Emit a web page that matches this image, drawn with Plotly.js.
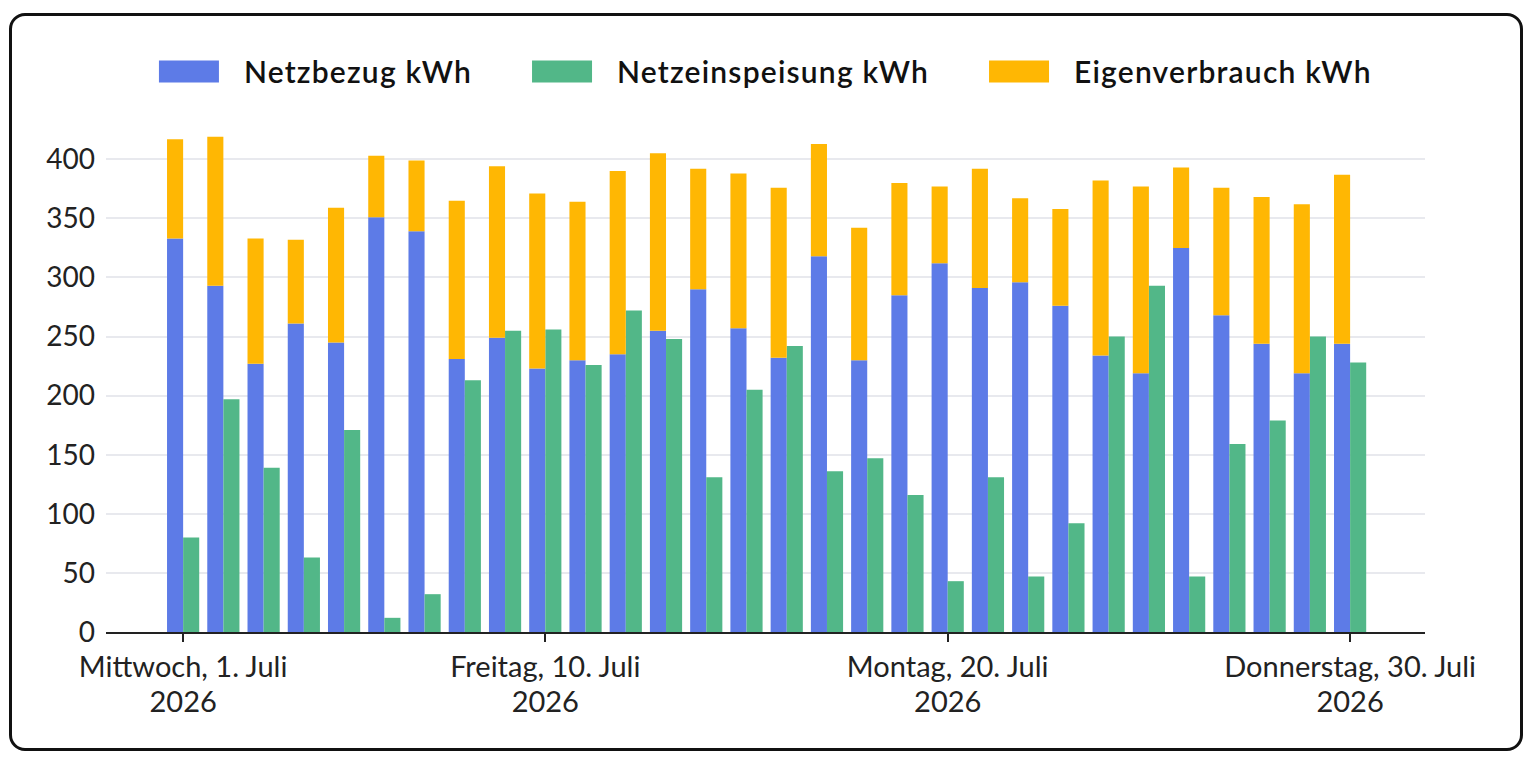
<!DOCTYPE html>
<html>
<head>
<meta charset="utf-8">
<script src="https://cdn.plot.ly/plotly-3.0.1.min.js"></script>
<style>
  html, body { margin: 0; padding: 0; background: #ffffff; }
  #frame { position: absolute; left: 9px; top: 13px; width: 1508px; height: 732px;
           border: 3px solid #111; border-radius: 16px; background: #fff; }
  #chart { position: absolute; left: 0; top: 0; width: 1533px; height: 762px; }
  .legendtext { letter-spacing: 1.2px; }
</style>
</head>
<body>
<div id="frame"></div>
<div id="chart"></div>
<script>
const days = ['2026-07-01','2026-07-02','2026-07-03','2026-07-04','2026-07-05','2026-07-06','2026-07-07','2026-07-08','2026-07-09','2026-07-10',
              '2026-07-11','2026-07-12','2026-07-13','2026-07-14','2026-07-15','2026-07-16','2026-07-17','2026-07-18','2026-07-19','2026-07-20',
              '2026-07-21','2026-07-22','2026-07-23','2026-07-24','2026-07-25','2026-07-26','2026-07-27','2026-07-28','2026-07-29','2026-07-30'];
const netzbezug = [333,293,227,261,245,351,339,231,249,223,230,235,255,290,257,232,318,230,285,312,291,296,276,234,219,325,268,244,219,244];
const eigenverbrauch = [84,126,106,71,114,52,60,134,145,148,134,155,150,102,131,144,95,112,95,65,101,71,82,148,158,68,108,124,143,143];
const netzeinspeisung = [80,197,139,63,171,12,32,213,255,256,226,272,248,131,205,242,136,147,116,43,131,47,92,250,293,47,159,179,250,228];
const tickDates = ['2026-07-01','2026-07-10','2026-07-20','2026-07-30'];
const tickLabels = ['Mittwoch, 1. Juli<br>2026','Freitag, 10. Juli<br>2026','Montag, 20. Juli<br>2026','Donnerstag, 30. Juli<br>2026'];
const yTicks = [0,50,100,150,200,250,300,350,400];

const FONT = 'Lato, "Open Sans", sans-serif';

const traces = [
  { type: 'bar', name: 'Netzbezug kWh', x: days, y: netzbezug, offsetgroup: 'a',
    marker: { color: '#5D7BE7' } },
  { type: 'bar', name: 'Netzeinspeisung kWh', x: days, y: netzeinspeisung, offsetgroup: 'b',
    marker: { color: '#52B788' } },
  { type: 'bar', name: 'Eigenverbrauch kWh', x: days, y: eigenverbrauch, base: netzbezug, offsetgroup: 'a',
    marker: { color: '#FFB703' } }
];

const layout = {
  width: 1533, height: 762,
  margin: { l: 106, r: 108, t: 112, b: 130 },
  paper_bgcolor: 'rgba(0,0,0,0)',
  plot_bgcolor: 'rgba(0,0,0,0)',
  barmode: 'group',
  bargap: 0.2,
  bargroupgap: 0,
  font: { family: FONT, color: '#222', size: 28 },
  showlegend: true,
  legend: {
    orientation: 'h', x: 0.481, xanchor: 'center', y: 1.078, yanchor: 'middle',
    font: { family: FONT, size: 30, color: '#111', weight: 600 },
    itemwidth: 130, traceorder: 'normal'
  },
  xaxis: {
    type: 'date',
    range: ['2026-06-29 02:00', '2026-07-31 20:40'],
    tickvals: tickDates, ticktext: tickLabels,
    ticks: 'outside', ticklen: 8, tickwidth: 2, tickcolor: '#222',
    showline: true, linecolor: '#222', linewidth: 2,
    showgrid: false, zeroline: false,
    tickfont: { family: FONT, size: 29, color: '#222' }
  },
  yaxis: {
    range: [0, 440],
    tickvals: yTicks,
    showgrid: true, gridcolor: '#E8E9EE', gridwidth: 2,
    zeroline: false, showline: false, ticks: '',
    ticklabelstandoff: 10,
    tickfont: { family: FONT, size: 28, color: '#222' }
  }
};

function fixup() {
  document.querySelectorAll('#chart .legend .legendpoints path').forEach(p => {
    p.setAttribute('d', 'M45,11H-15V-11H45Z');
  });
  document.querySelectorAll('#chart .xtick text tspan.line').forEach(t => {
    if (t.getAttribute('dy') && t.getAttribute('dy') !== '0em' && t.previousSibling) {
      t.setAttribute('dy', '1.2em');
    }
  });
}
Plotly.newPlot('chart', traces, layout, { displayModeBar: false, staticPlot: true }).then(gd => {
  fixup();
  gd.on('plotly_afterplot', fixup);
});
</script>
</body>
</html>
